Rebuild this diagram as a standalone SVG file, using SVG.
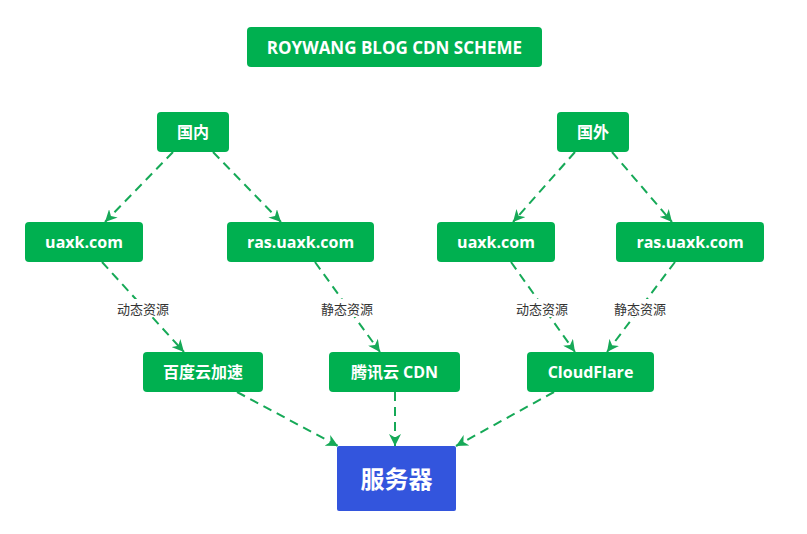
<svg xmlns="http://www.w3.org/2000/svg" width="807" height="534" viewBox="0 0 807 534">
  <style>
    .box { fill: #00b050; }
    .srv { fill: #3355dd; }
    .t { font-family: "Open Sans", "Noto Sans CJK SC", sans-serif; font-weight: bold; fill: #ffffff; text-anchor: middle; dominant-baseline: central; font-size: 16px; }
    .ttl { font-size: 17px; }
    .big { font-size: 24px; }
    .e { stroke: #16a957; stroke-width: 2; stroke-dasharray: 9 6; fill: none; marker-end: url(#arr); }
    .lb { font-family: "Noto Sans CJK SC", sans-serif; font-size: 13px; fill: #333333; text-anchor: middle; dominant-baseline: central; }
    .lbg { fill: #ffffff; }
  </style>
  <defs>
    <marker id="arr" markerUnits="userSpaceOnUse" markerWidth="12" markerHeight="12" refX="12" refY="6" orient="auto">
      <path d="M0,0 L12,6 L0,12 L3.5,6 z" fill="#16a957"/>
    </marker>
  </defs>
  <rect width="807" height="534" fill="#ffffff"/>

  <g id="connectors">
    <line class="e" x1="173" y1="152" x2="105" y2="222"/>
    <line class="e" x1="213" y1="152" x2="281" y2="222"/>
    <line class="e" x1="575" y1="152" x2="513" y2="222"/>
    <line class="e" x1="612" y1="152" x2="672" y2="222"/>
    <line class="e" x1="102" y1="262" x2="184" y2="352"/>
    <line class="e" x1="315" y1="262" x2="380" y2="352"/>
    <line class="e" x1="511" y1="262" x2="575" y2="352"/>
    <line class="e" x1="675" y1="262" x2="607" y2="352"/>
    <line class="e" x1="237" y1="392" x2="338" y2="446"/>
    <line class="e" x1="395" y1="392" x2="395" y2="446"/>
    <line class="e" x1="554" y1="392" x2="456" y2="446"/>
    <g id="edge-labels">
      <rect class="lbg" x="115" y="299" width="56" height="18"/>
      <text class="lb" x="143" y="308">动态资源</text>
      <rect class="lbg" x="319" y="299" width="56" height="18"/>
      <text class="lb" x="347" y="308">静态资源</text>
      <rect class="lbg" x="514" y="299" width="56" height="18"/>
      <text class="lb" x="542" y="308">动态资源</text>
      <rect class="lbg" x="612" y="299" width="56" height="18"/>
      <text class="lb" x="640" y="308">静态资源</text>
    </g>
  </g>

  <g id="title">
    <rect class="box" x="247" y="27" width="295" height="40" rx="4"/>
    <text class="t ttl" x="394.5" y="47">ROYWANG BLOG CDN SCHEME</text>
  </g>
  <g id="domestic">
    <rect class="box" x="157" y="112" width="72" height="40" rx="4"/>
    <text class="t" x="193" y="132">国内</text>
  </g>
  <g id="overseas">
    <rect class="box" x="557" y="112" width="72" height="40" rx="4"/>
    <text class="t" x="593" y="132">国外</text>
  </g>
  <g id="uaxk-cn">
    <rect class="box" x="25" y="222" width="118" height="40" rx="4"/>
    <text class="t" x="84" y="242">uaxk.com</text>
  </g>
  <g id="ras-cn">
    <rect class="box" x="227" y="222" width="147" height="40" rx="4"/>
    <text class="t" x="300.5" y="242">ras.uaxk.com</text>
  </g>
  <g id="uaxk-os">
    <rect class="box" x="437" y="222" width="118" height="40" rx="4"/>
    <text class="t" x="496" y="242">uaxk.com</text>
  </g>
  <g id="ras-os">
    <rect class="box" x="616" y="222" width="148" height="40" rx="4"/>
    <text class="t" x="690" y="242">ras.uaxk.com</text>
  </g>
  <g id="baidu">
    <rect class="box" x="143" y="352" width="120" height="40" rx="4"/>
    <text class="t" x="203" y="372">百度云加速</text>
  </g>
  <g id="tencent">
    <rect class="box" x="329" y="352" width="131" height="40" rx="4"/>
    <text class="t" x="394.5" y="372">腾讯云 CDN</text>
  </g>
  <g id="cloudflare">
    <rect class="box" x="527" y="352" width="127" height="40" rx="4"/>
    <text class="t" x="590.5" y="372">CloudFlare</text>
  </g>
  <g id="server">
    <rect class="srv" x="337" y="446" width="119" height="65" rx="2"/>
    <text class="t big" x="396.5" y="478.5">服务器</text>
  </g>
</svg>
